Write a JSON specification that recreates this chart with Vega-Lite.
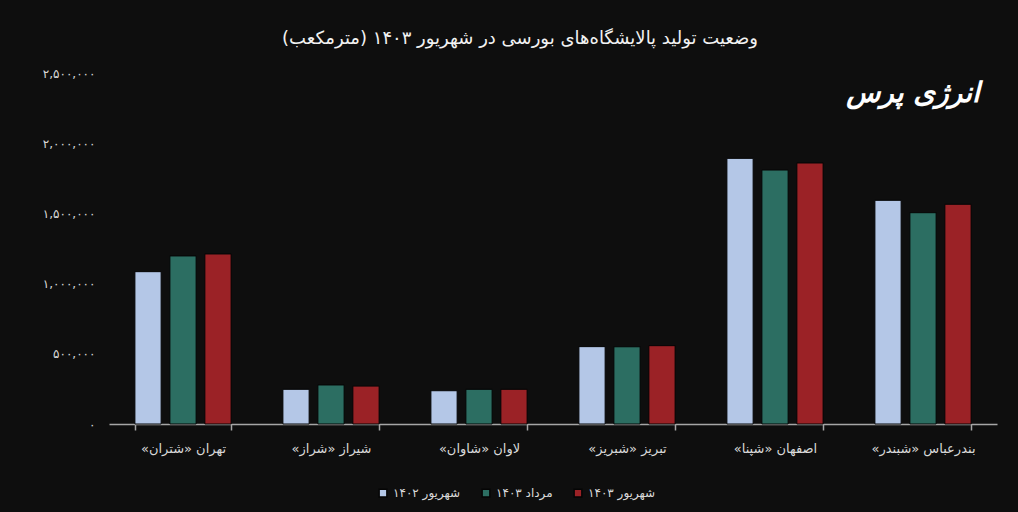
{
  "$schema": "https://vega.github.io/schema/vega-lite/v6.json",
  "width": 888,
  "height": 351,
  "autosize": {"type": "none"},
  "padding": {"left": 109, "top": 73, "right": 21, "bottom": 88},
  "background": "#0e0e0e",
  "config": {
    "view": {"stroke": null},
    "font": "DejaVu Sans"
  },
  "title": {
    "text": "\u200fوضعیت تولید پالایشگاه‌های بورسی در شهریور ۱۴۰۳ (مترمکعب)\u200f",
    "color": "#f2f2f2",
    "fontSize": 18,
    "fontWeight": "normal",
    "font": "DejaVu Sans",
    "anchor": "middle",
    "dx": -33,
    "offset": 19
  },
  "data": {
    "values": [
      {"city": "تهران «شتران»", "period": "شهریور ۱۴۰۲", "value": 1085000},
      {"city": "تهران «شتران»", "period": "مرداد ۱۴۰۳", "value": 1197000},
      {"city": "تهران «شتران»", "period": "شهریور ۱۴۰۳", "value": 1211000},
      {"city": "شیراز «شراز»", "period": "شهریور ۱۴۰۲", "value": 247000},
      {"city": "شیراز «شراز»", "period": "مرداد ۱۴۰۳", "value": 278000},
      {"city": "شیراز «شراز»", "period": "شهریور ۱۴۰۳", "value": 270000},
      {"city": "لاوان «شاوان»", "period": "شهریور ۱۴۰۲", "value": 237000},
      {"city": "لاوان «شاوان»", "period": "مرداد ۱۴۰۳", "value": 247000},
      {"city": "لاوان «شاوان»", "period": "شهریور ۱۴۰۳", "value": 247000},
      {"city": "تبریز «شبریز»", "period": "شهریور ۱۴۰۲", "value": 551000},
      {"city": "تبریز «شبریز»", "period": "مرداد ۱۴۰۳", "value": 550000},
      {"city": "تبریز «شبریز»", "period": "شهریور ۱۴۰۳", "value": 558000},
      {"city": "اصفهان «شپنا»", "period": "شهریور ۱۴۰۲", "value": 1892000},
      {"city": "اصفهان «شپنا»", "period": "مرداد ۱۴۰۳", "value": 1809000},
      {"city": "اصفهان «شپنا»", "period": "شهریور ۱۴۰۳", "value": 1859000},
      {"city": "بندرعباس «شبندر»", "period": "شهریور ۱۴۰۲", "value": 1593000},
      {"city": "بندرعباس «شبندر»", "period": "مرداد ۱۴۰۳", "value": 1505000},
      {"city": "بندرعباس «شبندر»", "period": "شهریور ۱۴۰۳", "value": 1565000}
    ]
  },
  "layer": [
    {
      "mark": {"type": "bar", "stroke": "#050505", "strokeWidth": 1},
      "encoding": {
        "x": {
          "field": "city",
          "type": "nominal",
          "sort": ["تهران «شتران»", "شیراز «شراز»", "لاوان «شاوان»", "تبریز «شبریز»", "اصفهان «شپنا»", "بندرعباس «شبندر»"],
          "scale": {"paddingInner": 0.35, "paddingOuter": 0.175},
          "axis": {
            "title": null,
            "labelAngle": 0,
            "labelExpr": "'\u200f' + datum.label + '\u200f'",
            "labelColor": "#d9d9d9",
            "labelFontSize": 13,
            "labelPadding": 12,
            "domainColor": "#a6a6a6",
            "domainWidth": 1.5,
            "tickColor": "#a6a6a6",
            "tickWidth": 1.5,
            "tickSize": 6,
            "tickBand": "extent",
            "grid": false
          }
        },
        "xOffset": {
          "field": "period",
          "type": "nominal",
          "sort": ["شهریور ۱۴۰۲", "مرداد ۱۴۰۳", "شهریور ۱۴۰۳"],
          "scale": {"paddingInner": 0.25}
        },
        "y": {
          "field": "value",
          "type": "quantitative",
          "scale": {"domain": [0, 2500000], "nice": false},
          "axis": {
            "title": null,
            "values": [0, 500000, 1000000, 1500000, 2000000, 2500000],
            "labelExpr": "datum.value == 0 ? '۰' : datum.value == 500000 ? '۵۰۰,۰۰۰' : datum.value == 1000000 ? '۱,۰۰۰,۰۰۰' : datum.value == 1500000 ? '۱,۵۰۰,۰۰۰' : datum.value == 2000000 ? '۲,۰۰۰,۰۰۰' : '۲,۵۰۰,۰۰۰'",
            "labelColor": "#d9d9d9",
            "labelFontSize": 12,
            "labelPadding": 14,
            "domain": false,
            "ticks": false,
            "grid": false
          }
        },
        "color": {
          "field": "period",
          "type": "nominal",
          "sort": ["شهریور ۱۴۰۲", "مرداد ۱۴۰۳", "شهریور ۱۴۰۳"],
          "scale": {
            "domain": ["شهریور ۱۴۰۲", "مرداد ۱۴۰۳", "شهریور ۱۴۰۳"],
            "range": ["#b4c7e7", "#2c6e62", "#9b2226"]
          },
          "legend": {
            "title": null,
            "orient": "none",
            "legendX": 268,
            "legendY": 414,
            "direction": "horizontal",
            "symbolType": "square",
            "symbolSize": 60,
            "labelColor": "#d9d9d9",
            "labelFontSize": 12,
            "columnPadding": 18
          }
        }
      }
    },
    {
      "data": {"values": [{"label": "انرژی پرس"}]},
      "mark": {"type": "text", "color": "#ffffff", "fontSize": 28, "fontWeight": "bold", "fontStyle": "italic", "align": "center", "baseline": "middle", "dx": -10},
      "encoding": {
        "text": {"field": "label"},
        "x": {"datum": "بندرعباس «شبندر»"},
        "y": {"datum": 2350000}
      }
    }
  ]
}
